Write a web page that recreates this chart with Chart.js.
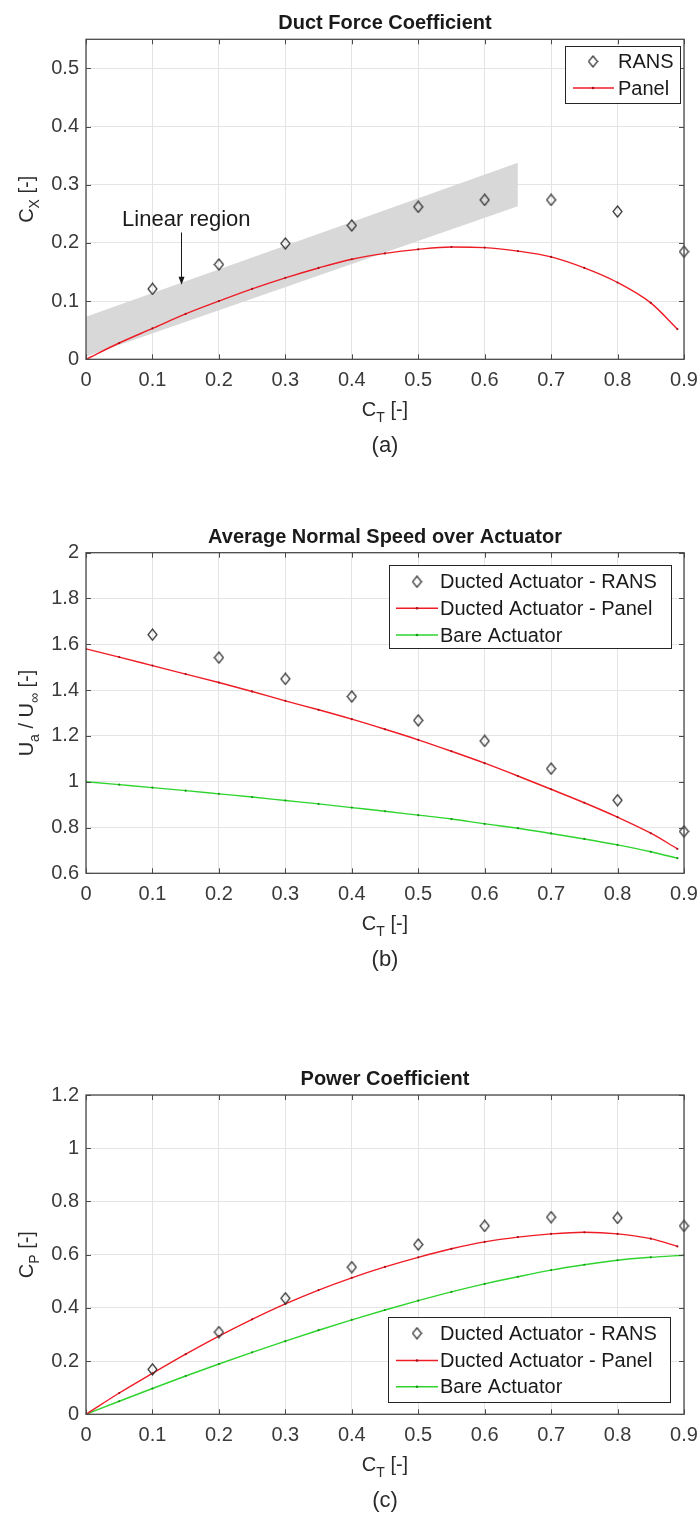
<!DOCTYPE html>
<html><head><meta charset="utf-8">
<script src="https://cdn.jsdelivr.net/npm/chart.js@4.4.1/dist/chart.umd.min.js"></script>
<style>
html,body{margin:0;padding:0;background:#fff;}
#wrap{position:relative;width:697px;height:1513px;overflow:hidden;background:#fff;}
canvas{position:absolute;left:0;}
</style></head><body>
<div id="wrap">
<canvas id="ca" width="697" height="500" style="top:0px"></canvas>
<canvas id="cb" width="697" height="500" style="top:500px"></canvas>
<canvas id="cc" width="697" height="513" style="top:1000px"></canvas>
</div>
<script>
// ---------- data ----------
const xTicks  = [0, 0.1, 0.2, 0.3, 0.4, 0.5, 0.6, 0.7, 0.8, 0.9];
const yTicksA = [0, 0.1, 0.2, 0.3, 0.4, 0.5];
const yTicksB = [0.6, 0.8, 1, 1.2, 1.4, 1.6, 1.8, 2];
const yTicksC = [0, 0.2, 0.4, 0.6, 0.8, 1, 1.2];

const ctRans  = [0.1, 0.2, 0.3, 0.4, 0.5, 0.6, 0.7, 0.8, 0.9];
const ctCurve = [0, 0.05, 0.1, 0.15, 0.2, 0.25, 0.3, 0.35, 0.4, 0.45, 0.5, 0.55, 0.6, 0.65, 0.7, 0.75, 0.8, 0.85, 0.89];
const ctBareC = [0, 0.05, 0.1, 0.15, 0.2, 0.25, 0.3, 0.35, 0.4, 0.45, 0.5, 0.55, 0.6, 0.65, 0.7, 0.75, 0.8, 0.85, 0.9];

// (a) Duct force coefficient
const cxRans  = [0.121, 0.163, 0.199, 0.230, 0.262, 0.274, 0.274, 0.254, 0.185];
const cxPanel = [0, 0.028, 0.053, 0.078, 0.100, 0.121, 0.140, 0.157, 0.172, 0.182, 0.189, 0.193, 0.192, 0.186, 0.176, 0.157, 0.132, 0.097, 0.052];
const bandCt    = [0, 0.65];
const bandUpper = [0.073, 0.338];
const bandLower = [0.005, 0.263];

// (b) Average normal speed
const uRans  = [1.642, 1.542, 1.449, 1.372, 1.268, 1.178, 1.057, 0.919, 0.783];
const uPanel = [1.580, 1.544, 1.507, 1.470, 1.433, 1.394, 1.353, 1.314, 1.273, 1.229, 1.183, 1.133, 1.081, 1.025, 0.967, 0.908, 0.845, 0.775, 0.707];
const uBare  = [1.000, 0.987, 0.974, 0.961, 0.947, 0.933, 0.918, 0.903, 0.887, 0.871, 0.854, 0.837, 0.816, 0.797, 0.774, 0.750, 0.724, 0.694, 0.666];

// (c) Power coefficient
const cpRans  = [0.169, 0.309, 0.436, 0.553, 0.638, 0.708, 0.741, 0.738, 0.708];
const cpPanel = [0, 0.080, 0.154, 0.226, 0.294, 0.357, 0.415, 0.467, 0.513, 0.554, 0.590, 0.622, 0.648, 0.666, 0.678, 0.684, 0.678, 0.660, 0.631];
const cpBare  = [0, 0.049, 0.097, 0.144, 0.189, 0.233, 0.275, 0.316, 0.355, 0.392, 0.427, 0.460, 0.490, 0.517, 0.542, 0.562, 0.579, 0.590, 0.598];

// ---------- styles ----------
const FONT = "'Liberation Sans', Arial, Helvetica, sans-serif";
const GRID = '#e4e4e4';
const TICK = '#3a3a3a';
const FRAME = '#4a4a4a';
const RED = '#ee1c25';
const RED_DOT = '#a8101a';
const GREEN = '#2fd42f';
const GREEN_DOT = '#159915';
const MARK = '#333333';

function pts(xs, ys) { return xs.map((x, i) => ({ x: x, y: ys[i] })); }

function makeDiamond(w, h, color) {
  const c = document.createElement('canvas');
  c.width = w + 2; c.height = h + 2;
  const g = c.getContext('2d');
  g.strokeStyle = color; g.lineWidth = 1.2;
  g.beginPath();
  g.moveTo(c.width / 2, 1);
  g.lineTo(c.width - 1, c.height / 2);
  g.lineTo(c.width / 2, c.height - 1);
  g.lineTo(1, c.height / 2);
  g.closePath(); g.stroke();
  return c;
}
const DIAMOND = makeDiamond(9, 11, MARK);

function drawParts(ctx, parts, x, y, align, size, subSize) {
  let w = 0;
  parts.forEach(p => { ctx.font = (p[1] ? subSize : size) + 'px ' + FONT; w += ctx.measureText(p[0]).width; });
  let cx = align === 'center' ? x - w / 2 : x;
  ctx.textAlign = 'left'; ctx.textBaseline = 'alphabetic';
  parts.forEach(p => {
    ctx.font = (p[1] ? subSize : size) + 'px ' + FONT;
    ctx.fillText(p[0], cx, y + (p[1] ? 6 : 0));
    cx += ctx.measureText(p[0]).width;
  });
}

function makeDeco(cfg) {
  return {
    id: 'deco',
    afterDatasetsDraw(chart) {
      const ctx = chart.ctx, a = chart.chartArea, xs = chart.scales.x, ys = chart.scales.y;
      ctx.save();
      ctx.strokeStyle = FRAME; ctx.lineWidth = 1.3;
      ctx.strokeRect(a.left, a.top, a.right - a.left, a.bottom - a.top);
      ctx.lineWidth = 1;
      ctx.beginPath();
      xs.ticks.forEach(t => {
        const px = Math.round(xs.getPixelForValue(t.value)) + 0.5;
        ctx.moveTo(px, a.top); ctx.lineTo(px, a.top + 5);
        ctx.moveTo(px, a.bottom); ctx.lineTo(px, a.bottom - 5);
      });
      ys.ticks.forEach(t => {
        const py = Math.round(ys.getPixelForValue(t.value)) + 0.5;
        ctx.moveTo(a.left, py); ctx.lineTo(a.left + 5, py);
        ctx.moveTo(a.right, py); ctx.lineTo(a.right - 5, py);
      });
      ctx.stroke();
      ctx.restore();
    },
    afterDraw(chart) {
      const ctx = chart.ctx, a = chart.chartArea, xs = chart.scales.x, ys = chart.scales.y;
      const cxm = (a.left + a.right) / 2, cym = (a.top + a.bottom) / 2;
      ctx.save();
      // title
      ctx.fillStyle = '#1a1a1a';
      ctx.font = 'bold 20px ' + FONT;
      ctx.textAlign = 'center'; ctx.textBaseline = 'alphabetic';
      ctx.fillText(cfg.title, cxm, a.top - 10);
      // x title
      ctx.fillStyle = '#2a2a2a';
      drawParts(ctx, [['C', false], ['T', true], [' [-]', false]], cxm, a.bottom + 57, 'center', 20, 14);
      // caption
      ctx.font = '22px ' + FONT; ctx.textAlign = 'center';
      ctx.fillText(cfg.caption, cxm, a.bottom + 93);
      // y title (rotated)
      ctx.save();
      ctx.translate(33, cym);
      ctx.rotate(-Math.PI / 2);
      drawParts(ctx, cfg.yTitle, 0, 0, 'center', 20, 14);
      ctx.restore();
      // annotation
      if (cfg.note) {
        const n = cfg.note;
        ctx.fillStyle = '#1a1a1a';
        ctx.font = '22px ' + FONT; ctx.textAlign = 'center'; ctx.textBaseline = 'middle';
        ctx.fillText(n.text, xs.getPixelForValue(n.x), ys.getPixelForValue(n.y));
        const ax = Math.round(xs.getPixelForValue(n.ax)) + 0.5;
        const y0 = ys.getPixelForValue(n.ay0), y1 = ys.getPixelForValue(n.ay1);
        ctx.strokeStyle = '#1a1a1a'; ctx.lineWidth = 1;
        ctx.beginPath(); ctx.moveTo(ax, y0); ctx.lineTo(ax, y1 - 6); ctx.stroke();
        ctx.beginPath(); ctx.moveTo(ax, y1); ctx.lineTo(ax - 3, y1 - 8); ctx.lineTo(ax + 3, y1 - 8); ctx.closePath(); ctx.fill();
      }
      // legend
      const L = cfg.legend;
      ctx.fillStyle = '#fff';
      ctx.fillRect(L.x0, L.y0, L.x1 - L.x0, L.y1 - L.y0);
      ctx.strokeStyle = '#262626'; ctx.lineWidth = 1;
      ctx.strokeRect(Math.round(L.x0) + 0.5, Math.round(L.y0) + 0.5, Math.round(L.x1 - L.x0), Math.round(L.y1 - L.y0));
      cfg.items.forEach((it, i) => {
        const y = L.rows[i];
        if (it.kind === 'marker') {
          ctx.drawImage(DIAMOND, L.mx - DIAMOND.width / 2, y - DIAMOND.height / 2);
        } else {
          ctx.strokeStyle = it.color; ctx.lineWidth = 1.4;
          ctx.beginPath(); ctx.moveTo(L.l0, y); ctx.lineTo(L.l1, y); ctx.stroke();
          ctx.fillStyle = it.dot;
          ctx.beginPath(); ctx.arc(L.mx, y, 1.3, 0, Math.PI * 2); ctx.fill();
        }
        ctx.fillStyle = '#1a1a1a';
        ctx.font = '20px ' + FONT; ctx.textAlign = 'left'; ctx.textBaseline = 'middle';
        ctx.fillText(it.label, L.tx, y + 1);
      });
      ctx.restore();
    }
  };
}

function mkScales(yMin, yMax, yTicks, xAxisHeight) {
  return {
    x: {
      type: 'linear', min: 0, max: 0.9,
      grid: { color: GRID, drawTicks: false, lineWidth: 1 },
      border: { display: false },
      ticks: { font: { family: FONT, size: 20 }, color: TICK, padding: 9, maxRotation: 0, autoSkip: false, includeBounds: false, callback: v => String(v) },
      afterBuildTicks: s => { s.ticks = xTicks.map(v => ({ value: v })); },
      afterFit: s => { s.height = xAxisHeight; s.paddingLeft = 0; s.paddingRight = 0; }
    },
    y: {
      type: 'linear', min: yMin, max: yMax,
      grid: { color: GRID, drawTicks: false, lineWidth: 1 },
      border: { display: false },
      ticks: { font: { family: FONT, size: 20 }, color: TICK, padding: 7, autoSkip: false, includeBounds: false, callback: v => String(v) },
      afterBuildTicks: s => { s.ticks = yTicks.map(v => ({ value: v })); },
      afterFit: s => { s.width = 86; s.paddingTop = 0; s.paddingBottom = 0; }
    }
  };
}

function ransDS(label, xs, ys) {
  return { label: label, data: pts(xs, ys), showLine: false, pointStyle: DIAMOND, pointRadius: 5, pointHoverRadius: 5, clip: false, order: 0 };
}
function lineDS(label, xs, ys, color, dot) {
  return { label: label, data: pts(xs, ys), borderColor: color, borderWidth: 1.4, pointRadius: 1.1, pointHoverRadius: 1.1,
    pointBackgroundColor: dot, pointBorderWidth: 0, cubicInterpolationMode: 'monotone', fill: false, order: 1 };
}

function baseOptions(padTop, scales, deco) {
  return {
    responsive: false, animation: false, devicePixelRatio: 1,
    layout: { padding: { top: padTop, left: 0, right: 13, bottom: 0 } },
    plugins: { legend: { display: false }, tooltip: { enabled: false }, title: { display: false } },
    events: [],
    scales: scales
  };
}

// ---------- (a) ----------
new Chart(document.getElementById('ca'), {
  type: 'line',
  data: {
    datasets: [
      ransDS('RANS', ctRans, cxRans),
      lineDS('Panel', ctCurve, cxPanel, RED, RED_DOT),
      { label: 'band upper', data: pts(bandCt, bandUpper), borderWidth: 0, pointRadius: 0, fill: false, order: 5 },
      { label: 'band lower', data: pts(bandCt, bandLower), borderWidth: 0, pointRadius: 0, fill: '-1', backgroundColor: '#d8d8d8', order: 5 }
    ]
  },
  options: baseOptions(39.3, mkScales(0, 0.55, yTicksA, 140.7)),
  plugins: [makeDeco({
    title: 'Duct Force Coefficient', caption: '(a)',
    yTitle: [['C', false], ['X', true], [' [-]', false]],
    note: { text: 'Linear region', x: 0.151, y: 0.24, ax: 0.143, ay0: 0.218, ay1: 0.128 },
    legend: { x0: 565, y0: 45.5, x1: 680, y1: 102, rows: [61.5, 88], mx: 593, l0: 573, l1: 614, tx: 618 },
    items: [{ kind: 'marker', label: 'RANS' }, { kind: 'line', label: 'Panel', color: RED, dot: RED_DOT }]
  })]
});

// ---------- (b) ----------
new Chart(document.getElementById('cb'), {
  type: 'line',
  data: {
    datasets: [
      ransDS('Ducted Actuator - RANS', ctRans, uRans),
      lineDS('Ducted Actuator - Panel', ctCurve, uPanel, RED, RED_DOT),
      lineDS('Bare Actuator', ctCurve, uBare, GREEN, GREEN_DOT)
    ]
  },
  options: baseOptions(52.7, mkScales(0.6, 2, yTicksB, 126.7)),
  plugins: [makeDeco({
    title: 'Average Normal Speed over Actuator', caption: '(b)',
    yTitle: [['U', false], ['a', true], [' / U', false], ['\u221E', true], [' [-]', false]],
    legend: { x0: 389, y0: 65, x1: 671, y1: 148, rows: [81.7, 108.3, 135], mx: 417, l0: 396, l1: 438, tx: 440 },
    items: [{ kind: 'marker', label: 'Ducted Actuator - RANS' },
            { kind: 'line', label: 'Ducted Actuator - Panel', color: RED, dot: RED_DOT },
            { kind: 'line', label: 'Bare Actuator', color: GREEN, dot: GREEN_DOT }]
  })]
});

// ---------- (c) ----------
new Chart(document.getElementById('cc'), {
  type: 'line',
  data: {
    datasets: [
      ransDS('Ducted Actuator - RANS', ctRans, cpRans),
      lineDS('Ducted Actuator - Panel', ctCurve, cpPanel, RED, RED_DOT),
      lineDS('Bare Actuator', ctBareC, cpBare, GREEN, GREEN_DOT)
    ]
  },
  options: baseOptions(95, mkScales(0, 1.2, yTicksC, 98.7)),
  plugins: [makeDeco({
    title: 'Power Coefficient', caption: '(c)',
    yTitle: [['C', false], ['P', true], [' [-]', false]],
    legend: { x0: 388, y0: 317, x1: 670, y1: 401.7, rows: [333.3, 360.5, 386.7], mx: 417, l0: 396, l1: 438, tx: 440 },
    items: [{ kind: 'marker', label: 'Ducted Actuator - RANS' },
            { kind: 'line', label: 'Ducted Actuator - Panel', color: RED, dot: RED_DOT },
            { kind: 'line', label: 'Bare Actuator', color: GREEN, dot: GREEN_DOT }]
  })]
});
</script>
</body></html>
